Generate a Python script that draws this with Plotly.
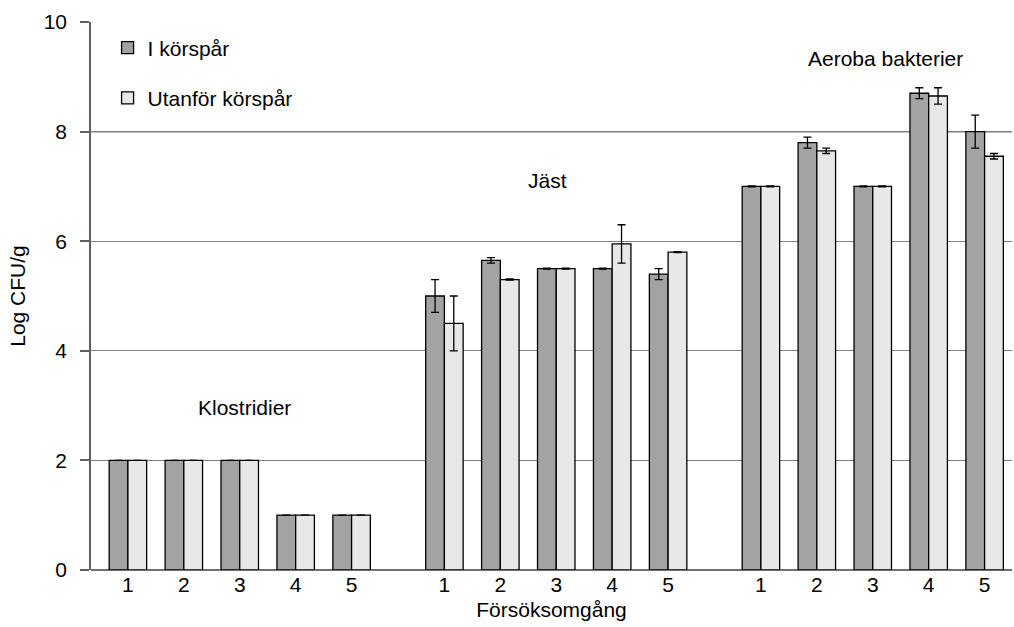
import plotly.graph_objects as go

# ---- data ----
groups = ["Klostridier", "Jäst", "Aeroba bakterier"]
trials = ["1", "2", "3", "4", "5"]

i_korspar = [2, 2, 2, 1, 1,
             5.0, 5.65, 5.5, 5.5, 5.4,
             7.0, 7.8, 7.0, 8.7, 8.0]
i_korspar_err = [None, None, None, None, None,
                 0.3, 0.05, 0.01, 0.01, 0.1,
                 0.01, 0.1, 0.01, 0.1, 0.3]

utanfor = [2, 2, 2, 1, 1,
           4.5, 5.3, 5.5, 5.95, 5.8,
           7.0, 7.65, 7.0, 8.65, 7.55]
utanfor_err = [None, None, None, None, None,
               0.5, 0.01, 0.01, 0.35, 0.01,
               0.01, 0.05, 0.01, 0.15, 0.05]

# label placement (within-group offset, value level)
group_label_dx = [2.09, 1.84, 2.22]
group_label_y = [2.97, 7.1, 9.34]

# ---- layout helpers ----
GROUP_STEP = 5.66
xpos = [g * GROUP_STEP + i for g in range(len(groups)) for i in range(len(trials))]
xtext = trials * len(groups)

FONT = "Liberation Sans, Arial, sans-serif"
FS = 21

fig = go.Figure()
fig.add_trace(go.Bar(
    x=xpos, y=i_korspar, name="I körspår", legendgroup="a",
    marker=dict(color="#A3A3A3", line=dict(color="#000000", width=1.3)),
    error_y=dict(type="data", array=i_korspar_err, color="#000000", thickness=1.3, width=4),
))
fig.add_trace(go.Bar(
    x=xpos, y=utanfor, name="Utanför körspår", legendgroup="b",
    marker=dict(color="#E8E8E8", line=dict(color="#000000", width=1.3)),
    error_y=dict(type="data", array=utanfor_err, color="#000000", thickness=1.3, width=4),
))

for g, (name, dx, ly) in enumerate(zip(groups, group_label_dx, group_label_y)):
    fig.add_annotation(x=g * GROUP_STEP + dx, y=ly, text=name, showarrow=False,
                       font=dict(size=FS, color="#000000", family=FONT))

fig.add_shape(type="line", xref="paper", x0=0, x1=1, yref="y", y0=8, y1=8,
              line=dict(color="#000000", width=1.2), layer="below")

fig.update_layout(
    width=1014, height=627,
    margin=dict(l=91, r=2, t=22, b=57),
    paper_bgcolor="white", plot_bgcolor="white",
    font=dict(family=FONT, size=FS, color="#000000"),
    barmode="group", bargap=0.33, bargroupgap=0,
    showlegend=True,
    legend=dict(x=0.018, y=0.99, xanchor="left", yanchor="top",
                font=dict(size=FS), bgcolor="rgba(0,0,0,0)",
                tracegroupgap=20, traceorder="grouped"),
    xaxis=dict(range=[-0.66, 15.81], tickmode="array", tickvals=xpos, ticktext=xtext,
               showgrid=False, zeroline=False, showline=False, ticks="",
               tickfont=dict(size=FS),
               title=dict(text="Försöksomgång", font=dict(size=FS), standoff=7)),
    yaxis=dict(range=[0, 10], dtick=2, tick0=0,
               showgrid=True, gridcolor="#808080", gridwidth=1,
               zeroline=True, zerolinecolor="#707070", zerolinewidth=1.5,
               showline=True, linecolor="#606060", linewidth=1.5,
               ticks="outside", ticklen=9, tickcolor="#606060", tickwidth=1.5,
               ticklabelstandoff=9, tickfont=dict(size=FS),
               title=dict(text="Log CFU/g", font=dict(size=FS), standoff=12)),
)

fig.write_html("out.html")
